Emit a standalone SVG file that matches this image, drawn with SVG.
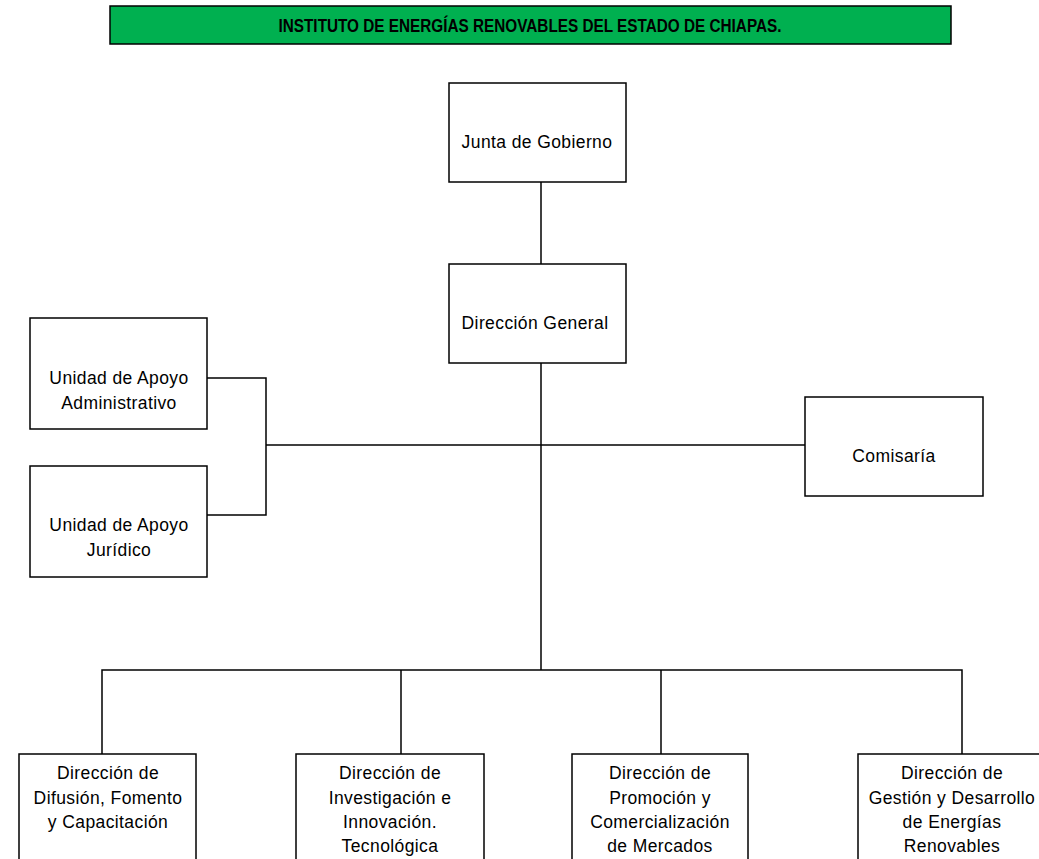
<svg xmlns="http://www.w3.org/2000/svg" width="1039" height="859" viewBox="0 0 1039 859">
<style>
.box{fill:#fff;stroke:#000;stroke-width:1.5}
.ln{fill:none;stroke:#000;stroke-width:1.5}
.t{font-family:"Liberation Sans",Arial,sans-serif;font-size:17.5px;letter-spacing:0.4px;fill:#000;text-anchor:middle}
.title{font-family:"Liberation Sans Narrow","Liberation Sans",Arial,sans-serif;font-size:18px;font-weight:bold;fill:#000;text-anchor:middle}
</style>
<rect width="1039" height="859" fill="#fff"/>
<g id="title">
<rect x="110" y="6" width="841" height="38" fill="#00b050" stroke="#000" stroke-width="1.5"/>
<text class="title" x="530" y="32" textLength="503" lengthAdjust="spacingAndGlyphs">INSTITUTO DE ENERGÍAS RENOVABLES DEL ESTADO DE CHIAPAS.</text>
</g>
<g id="connectors">
<path class="ln" d="M541 182V264"/>
<path class="ln" d="M541 363V670"/>
<path class="ln" d="M266 445H805"/>
<path class="ln" d="M207 378H266V515H207"/>
<path class="ln" d="M102 754V670H962V754"/>
<path class="ln" d="M401 670V754"/>
<path class="ln" d="M661 670V754"/>
</g>
<g id="junta">
<rect class="box" x="449" y="83" width="177" height="99"/>
<text class="t" x="537" y="148">Junta de Gobierno</text>
</g>
<g id="direccion-general">
<rect class="box" x="449" y="264" width="177" height="99"/>
<text class="t" x="535" y="329">Dirección General</text>
</g>
<g id="unidad-admin">
<rect class="box" x="30" y="318" width="177" height="111"/>
<text class="t" x="119" y="384">Unidad de Apoyo</text>
<text class="t" x="119" y="409">Administrativo</text>
</g>
<g id="unidad-juridico">
<rect class="box" x="30" y="466" width="177" height="111"/>
<text class="t" x="119" y="531">Unidad de Apoyo</text>
<text class="t" x="119" y="556">Jurídico</text>
</g>
<g id="comisaria">
<rect class="box" x="805" y="397" width="178" height="99"/>
<text class="t" x="894" y="462">Comisaría</text>
</g>
<g id="dir-difusion">
<rect class="box" x="19" y="754" width="177" height="110"/>
<text class="t" x="108" y="779">Dirección de</text>
<text class="t" x="108" y="804">Difusión, Fomento</text>
<text class="t" x="108" y="828">y Capacitación</text>
</g>
<g id="dir-investigacion">
<rect class="box" x="296" y="754" width="188" height="110"/>
<text class="t" x="390" y="779">Dirección de</text>
<text class="t" x="390" y="804">Investigación e</text>
<text class="t" x="390" y="828">Innovación.</text>
<text class="t" x="390" y="852">Tecnológica</text>
</g>
<g id="dir-promocion">
<rect class="box" x="572" y="754" width="176" height="110"/>
<text class="t" x="660" y="779">Dirección de</text>
<text class="t" x="660" y="804">Promoción y</text>
<text class="t" x="660" y="828">Comercialización</text>
<text class="t" x="660" y="852">de Mercados</text>
</g>
<g id="dir-gestion">
<rect class="box" x="858" y="754" width="190" height="110"/>
<text class="t" x="952" y="779">Dirección de</text>
<text class="t" x="952" y="804">Gestión y Desarrollo</text>
<text class="t" x="952" y="828">de Energías</text>
<text class="t" x="952" y="852">Renovables</text>
</g>
</svg>
